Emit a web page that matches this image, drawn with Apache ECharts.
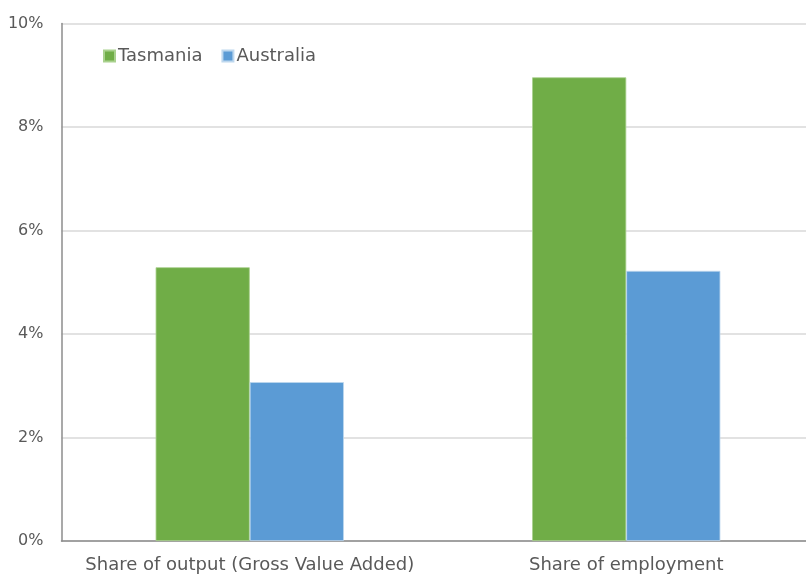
<!DOCTYPE html>
<html><head><meta charset="utf-8">
<script src="https://cdn.jsdelivr.net/npm/echarts@6/dist/echarts.min.js"></script>
<style>html,body{margin:0;padding:0;background:#fff}#c{width:806px;height:575px}</style>
</head><body><div id="c"></div>
<script>
const categories = ["Share of output (Gross Value Added)", "Share of employment"];
const tasmania = [5.29, 8.96];
const australia = [3.07, 5.22];
const seriesNames = ["Tasmania", "Australia"];
const font = "'DejaVu Sans', sans-serif";
const chart = echarts.init(document.getElementById('c'));
chart.setOption({
  animation: false,
  textStyle: {fontFamily: font},
  legend: {
    left: 98, top: 42, itemWidth: 11, itemHeight: 11, itemGap: 19,
    icon: 'rect',
    textStyle: {fontSize: 18, color: '#595959', fontFamily: font, padding: [0,0,0,-2]},
    data: seriesNames
  },
  grid: {left: 61.5, width: 753, top: 23.5, bottom: 34, containLabel: false, outerBoundsMode: 'none'},
  xAxis: {
    type: 'category', data: categories,
    axisLine: {lineStyle: {color: '#8c8c8c', width: 1.5}},
    axisTick: {show: false},
    axisLabel: {fontSize: 18, color: '#595959', margin: 15, interval: 0, hideOverlap: false, fontFamily: font}
  },
  yAxis: {
    type: 'value', min: 0, max: 10, interval: 2,
    axisLine: {show: true, lineStyle: {color: '#8c8c8c', width: 1.5}},
    axisTick: {show: false},
    splitLine: {lineStyle: {color: '#d9d9d9', width: 1.5}},
    axisLabel: {fontSize: 16, color: '#595959', margin: 18, formatter: v => v + '%', fontFamily: font}
  },
  series: [
    {name: seriesNames[0], type: 'bar', data: tasmania, barGap: '0%', barCategoryGap: '50%',
     itemStyle: {color: '#70AD47', borderColor: '#a9d18e', borderWidth: 0.8}},
    {name: seriesNames[1], type: 'bar', data: australia,
     itemStyle: {color: '#5B9BD5', borderColor: '#bdd7ee', borderWidth: 0.8}}
  ]
});
</script></body></html>
